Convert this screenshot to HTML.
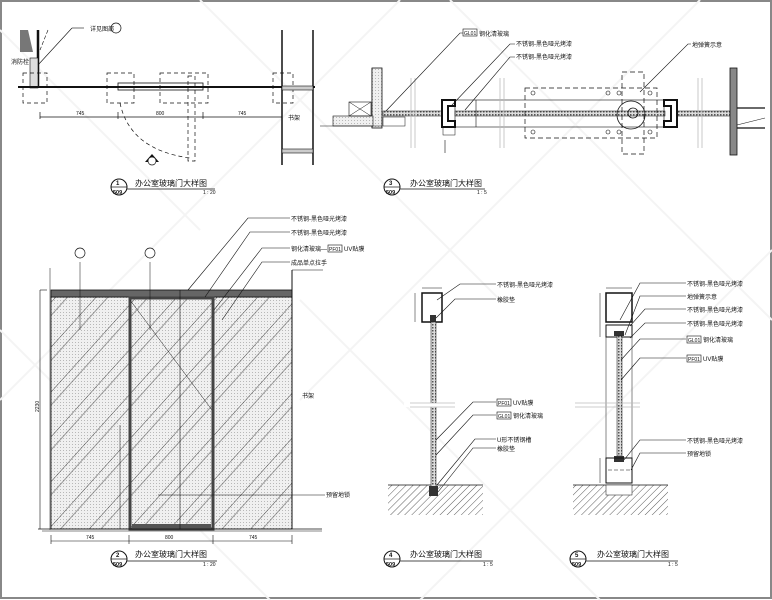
<!DOCTYPE html>
<html><head><meta charset="utf-8"><style>
html,body{margin:0;padding:0;background:#fff;}
svg{display:block;}
text{font-family:"Liberation Sans","Noto Sans CJK SC",sans-serif;fill:#111;}
</style></head><body>
<svg width="772" height="600" viewBox="0 0 772 600" xmlns="http://www.w3.org/2000/svg">
<defs>
<pattern id="dots" width="3" height="3" patternUnits="userSpaceOnUse"><rect width="3" height="3" fill="#f0f0f0"/><rect width="1" height="1" fill="#b8b8b8"/></pattern>
<pattern id="diag" width="30" height="30" patternUnits="userSpaceOnUse" patternTransform="rotate(42)"><line x1="0" y1="0" x2="0" y2="30" stroke="#222" stroke-width="0.8"/><line x1="9" y1="0" x2="9" y2="30" stroke="#444" stroke-width="0.5"/></pattern>
<pattern id="ground" width="5" height="5" patternUnits="userSpaceOnUse" patternTransform="rotate(45)"><rect width="5" height="5" fill="#fff"/><line x1="0" y1="0" x2="0" y2="5" stroke="#333" stroke-width="0.8"/></pattern>
<pattern id="glass" width="3" height="3" patternUnits="userSpaceOnUse"><rect width="3" height="3" fill="#ddd"/><rect width="1.5" height="1.5" fill="#555"/></pattern>
</defs>
<rect x="1" y="1" width="770" height="597" fill="none" stroke="#888" stroke-width="2"/>
<g stroke="#f4f4f4" stroke-width="2" fill="none">
<line x1="0" y1="30" x2="200" y2="230"/><line x1="200" y1="0" x2="500" y2="300"/><line x1="450" y1="0" x2="772" y2="320"/>
<line x1="0" y1="330" x2="270" y2="600"/><line x1="300" y1="300" x2="600" y2="600"/>
<line x1="400" y1="0" x2="0" y2="400"/><line x1="700" y1="0" x2="300" y2="400"/><line x1="772" y1="250" x2="420" y2="600"/>
</g>

<!-- ===== VIEW 1 ===== -->
<g stroke="#111" fill="none">
<polygon points="20,30 28,30 33,52 20,52" fill="#777" stroke="none"/>
<line x1="38" y1="30" x2="38" y2="88" stroke-width="2.5"/>
<rect x="30" y="58" width="8" height="30" fill="#ddd" stroke-width="0.6"/>
<line x1="48" y1="30" x2="40" y2="50" stroke-dasharray="4,2" stroke-width="0.6"/>
<line x1="18" y1="87" x2="315" y2="87" stroke-width="2"/>
<rect x="118" y="83" width="85" height="7" stroke-width="0.8"/>
<g stroke-dasharray="4,3" stroke-width="0.7">
<rect x="23" y="73" width="24" height="30"/><rect x="107" y="73" width="27" height="30"/>
<rect x="160" y="73" width="48" height="30"/><rect x="273" y="73" width="20" height="30"/>
<rect x="188" y="76" width="7" height="85"/>
<path d="M120,103 Q130,150 190,158"/>
</g>
<line x1="282" y1="30" x2="282" y2="165" stroke-width="1.5"/>
<line x1="313" y1="30" x2="313" y2="165" stroke-width="1.5"/>
<rect x="282" y="86" width="31" height="4" fill="#ccc" stroke-width="0.6"/>
<rect x="282" y="149" width="31" height="4" fill="#ccc" stroke-width="0.6"/>
<line x1="40" y1="117" x2="282" y2="117" stroke-width="0.7"/>
<line x1="40" y1="112" x2="40" y2="119" stroke-width="0.7"/><line x1="118" y1="112" x2="118" y2="119" stroke-width="0.7"/><line x1="203" y1="112" x2="203" y2="119" stroke-width="0.7"/>
<line x1="72" y1="28" x2="38" y2="65" stroke-width="0.6"/><line x1="72" y1="28" x2="84" y2="28" stroke-width="0.6"/>
<line x1="372" y1="68" x2="372" y2="128" stroke-width="0.8"/>
<rect x="372" y="68" width="10" height="60" fill="url(#dots)" stroke-width="0.8"/>
<rect x="333" y="116" width="40" height="10" fill="url(#dots)" stroke-width="0.6"/>
<rect x="349" y="102" width="22" height="14" stroke-width="0.6"/><line x1="349" y1="102" x2="371" y2="116" stroke-width="0.5"/><line x1="371" y1="102" x2="349" y2="116" stroke-width="0.5"/>
<line x1="320" y1="126" x2="382" y2="126" stroke-width="0.6"/>
</g>
<text x="90" y="31" font-size="6">详见图部</text>
<circle cx="116" cy="28" r="5" fill="none" stroke="#111" stroke-width="0.7"/>
<text x="11" y="64" font-size="6">消防栓</text>
<text x="76" y="115" font-size="5">745</text><text x="156" y="115" font-size="5">800</text><text x="238" y="115" font-size="5">745</text>
<text x="288" y="120" font-size="6">书架</text>
<path d="M145,162 L152,154 L159,162 Z" fill="#111"/><circle cx="152" cy="161" r="4" fill="#fff" stroke="#111" stroke-width="0.7"/>
<circle cx="119" cy="187" r="8" fill="#fff" stroke="#111" stroke-width="1"/><line x1="111" y1="187" x2="127" y2="187" stroke="#111" stroke-width="0.7"/>
<text x="116" y="185" font-size="6" font-weight="bold">1</text><text x="113" y="194" font-size="5.5" font-weight="bold">509</text>
<line x1="127" y1="189" x2="215" y2="189" stroke="#111" stroke-width="0.8"/>
<text x="135" y="186" font-size="8">办公室玻璃门大样图</text><text x="203" y="194" font-size="5">1 : 20</text>

<!-- ===== VIEW 3 ===== -->
<g stroke="#111" fill="none">
<rect x="383" y="111" width="60" height="5" fill="url(#glass)" stroke-width="0.5"/>
<rect x="455" y="111" width="210" height="5" fill="url(#glass)" stroke-width="0.5"/>
<rect x="677" y="111" width="53" height="5" fill="url(#glass)" stroke-width="0.5"/>
<path d="M442,100 h13 v6 h-7 v15 h7 v6 h-13 z" fill="#fff" stroke-width="2"/>
<path d="M677,100 h-13 v6 h7 v15 h-7 v6 h13 z" fill="#fff" stroke-width="2"/>
<rect x="455" y="100" width="209" height="27" stroke-width="0.6"/>
<line x1="476" y1="100" x2="476" y2="127" stroke-width="0.6"/>
<rect x="525" y="88" width="132" height="50" stroke-dasharray="5,3" stroke-width="0.7"/>
<rect x="622" y="72" width="22" height="82" stroke-dasharray="5,3" stroke-width="0.7"/>
<circle cx="631" cy="115" r="14" stroke-width="0.8"/><circle cx="633" cy="113" r="5" stroke-width="0.8"/>
<g stroke-width="0.6"><circle cx="533" cy="93" r="2"/><circle cx="608" cy="93" r="2"/><circle cx="619" cy="93" r="2"/><circle cx="650" cy="93" r="2"/><circle cx="533" cy="132" r="2"/><circle cx="608" cy="132" r="2"/><circle cx="619" cy="132" r="2"/><circle cx="650" cy="132" r="2"/></g>
<g stroke="#bbb" stroke-width="0.8"><line x1="411" y1="78" x2="411" y2="148"/><line x1="415" y1="78" x2="415" y2="148"/><line x1="500" y1="78" x2="500" y2="148"/><line x1="504" y1="78" x2="504" y2="148"/><line x1="698" y1="78" x2="698" y2="148"/><line x1="702" y1="78" x2="702" y2="148"/></g>
<rect x="730" y="68" width="7" height="87" fill="#888" stroke-width="0.8"/>
<line x1="737" y1="108" x2="765" y2="108" stroke-width="1.2"/><line x1="737" y1="128" x2="765" y2="128" stroke-width="1.2"/><line x1="737" y1="125" x2="765" y2="118" stroke-width="0.6"/>
<rect x="383" y="117" width="22" height="9" stroke-width="0.5"/>
<rect x="443" y="127" width="12" height="8" stroke-width="0.5"/>
<line x1="445" y1="140" x2="445" y2="153" stroke-width="0.6"/>
<g stroke-width="0.6">
<polyline points="386,111 460,33 463,33"/><polyline points="452,105 510,44 515,44"/><polyline points="465,110 510,57 515,57"/><polyline points="640,92 688,44 691,44"/>
</g>
</g>
<rect x="463" y="29" width="14" height="7" fill="#fff" stroke="#111" stroke-width="0.6"/><text x="464" y="35" font-size="5">GL01</text>
<text x="479" y="36" font-size="6">钢化清玻璃</text>
<text x="516" y="46" font-size="6">不锈钢-黑色哑光烤漆</text><text x="516" y="59" font-size="6">不锈钢-黑色哑光烤漆</text>
<text x="692" y="47" font-size="6">地弹簧示意</text>
<circle cx="392" cy="187" r="8" fill="#fff" stroke="#111" stroke-width="1"/><line x1="384" y1="187" x2="400" y2="187" stroke="#111" stroke-width="0.7"/>
<text x="389" y="185" font-size="6" font-weight="bold">3</text><text x="386" y="194" font-size="5.5" font-weight="bold">509</text>
<line x1="400" y1="189" x2="485" y2="189" stroke="#111" stroke-width="0.8"/>
<text x="410" y="186" font-size="8">办公室玻璃门大样图</text><text x="477" y="194" font-size="5">1 : 5</text>

<!-- ===== VIEW 2 ===== -->
<g stroke="#111" fill="none">
<rect x="51" y="297" width="241" height="232" fill="url(#dots)" stroke="none"/>
<rect x="51" y="297" width="241" height="232" fill="url(#diag)" stroke-width="0.8"/>
<rect x="51" y="290" width="241" height="7" fill="#666" stroke-width="0.8"/>
<rect x="130" y="298" width="83" height="231" stroke="#444" stroke-width="3"/>
<rect x="132" y="524" width="79" height="5" fill="#555" stroke="none"/>
<line x1="130" y1="300" x2="212" y2="410" stroke-width="0.5"/>
<line x1="180" y1="290" x2="180" y2="529" stroke-width="0.6"/>
<line x1="40" y1="290" x2="47" y2="290" stroke-width="0.6"/><line x1="40" y1="290" x2="40" y2="529" stroke-width="0.6"/>
<line x1="50" y1="268" x2="50" y2="530" stroke-width="0.5"/>
<line x1="80" y1="262" x2="80" y2="330" stroke-width="0.5"/><line x1="150" y1="262" x2="150" y2="330" stroke-width="0.5"/>
<line x1="120" y1="425" x2="120" y2="529" stroke-width="0.5"/>
<line x1="38" y1="529" x2="322" y2="529" stroke-width="0.8"/><line x1="42" y1="531" x2="322" y2="531" stroke-width="0.5"/>
<line x1="292" y1="270" x2="292" y2="529" stroke-width="1"/><line x1="292" y1="270" x2="323" y2="270" stroke-width="0.6"/>
<line x1="51" y1="541" x2="292" y2="541" stroke-width="0.6"/>
<line x1="51" y1="535" x2="51" y2="544" stroke-width="0.6"/><line x1="129" y1="535" x2="129" y2="544" stroke-width="0.6"/><line x1="213" y1="535" x2="213" y2="544" stroke-width="0.6"/><line x1="292" y1="535" x2="292" y2="544" stroke-width="0.6"/>
<line x1="158" y1="495" x2="325" y2="495" stroke-width="0.6"/>
<g stroke-width="0.6">
<polyline points="188,290 248,218 290,218"/><polyline points="205,297 250,232 290,232"/><polyline points="214,310 262,248 290,248"/><polyline points="222,320 262,262 290,262"/>
</g>
</g>
<text x="291" y="221" font-size="6">不锈钢-黑色哑光烤漆</text><text x="291" y="235" font-size="6">不锈钢-黑色哑光烤漆</text>
<text x="291" y="251" font-size="6">钢化清玻璃—</text><rect x="328" y="245" width="14" height="7" fill="#fff" stroke="#111" stroke-width="0.6"/><text x="329" y="251" font-size="5">PF01</text><text x="344" y="251" font-size="6">UV贴膜</text>
<text x="291" y="265" font-size="6">成品单点拉手</text>
<text x="302" y="398" font-size="6">书架</text>
<text x="326" y="497" font-size="6">预留地锁</text>
<text x="39" y="412" font-size="5" transform="rotate(-90 39 412)">2230</text>
<text x="86" y="539" font-size="5">745</text><text x="165" y="539" font-size="5">800</text><text x="249" y="539" font-size="5">745</text>
<circle cx="80" cy="253" r="5" fill="#fff" stroke="#111" stroke-width="0.7"/><circle cx="150" cy="253" r="5" fill="#fff" stroke="#111" stroke-width="0.7"/>
<circle cx="119" cy="559" r="8" fill="#fff" stroke="#111" stroke-width="1"/><line x1="111" y1="559" x2="127" y2="559" stroke="#111" stroke-width="0.7"/>
<text x="116" y="557" font-size="6" font-weight="bold">2</text><text x="113" y="566" font-size="5.5" font-weight="bold">509</text>
<line x1="127" y1="561" x2="217" y2="561" stroke="#111" stroke-width="0.8"/>
<text x="135" y="557" font-size="8">办公室玻璃门大样图</text><text x="203" y="566" font-size="5">1 : 20</text>

<!-- ===== VIEW 4 ===== -->
<g stroke="#111" fill="none">
<rect x="388" y="485" width="95" height="30" fill="url(#ground)" stroke="none"/>
<line x1="388" y1="485" x2="483" y2="485" stroke-width="0.8"/>
<rect x="422" y="293" width="20" height="29" stroke-width="1.5"/>
<rect x="430" y="315" width="6" height="8" fill="#333" stroke="none"/>
<rect x="431" y="322" width="5" height="168" fill="url(#glass)" stroke-width="0.5"/>
<rect x="429" y="486" width="9" height="10" fill="#333" stroke="none"/>
<rect x="404" y="403" width="35" height="4" fill="#fff" stroke="none"/>
<line x1="410" y1="403" x2="455" y2="403" stroke="#bbb" stroke-width="0.8"/><line x1="410" y1="407" x2="455" y2="407" stroke="#bbb" stroke-width="0.8"/>
<line x1="422" y1="288" x2="442" y2="288" stroke-width="0.5"/><line x1="415" y1="293" x2="415" y2="322" stroke-width="0.5"/>
<g stroke-width="0.6">
<polyline points="437,300 460,284 496,284"/><polyline points="436,318 455,299 496,299"/>
<polyline points="436,440 473,402 496,402"/><polyline points="436,455 473,415 496,415"/><polyline points="437,485 475,439 496,439"/><polyline points="438,492 473,448 496,448"/>
</g>
</g>
<text x="497" y="287" font-size="6">不锈钢-黑色哑光烤漆</text><text x="497" y="302" font-size="6">橡胶垫</text>
<rect x="497" y="399" width="14" height="7" fill="#fff" stroke="#111" stroke-width="0.6"/><text x="498" y="405" font-size="5">PF01</text><text x="513" y="405" font-size="6">UV贴膜</text>
<rect x="497" y="412" width="14" height="7" fill="#fff" stroke="#111" stroke-width="0.6"/><text x="498" y="418" font-size="5">GL01</text><text x="513" y="418" font-size="6">钢化清玻璃</text>
<text x="497" y="442" font-size="6">U形不锈钢槽</text><text x="497" y="451" font-size="6">橡胶垫</text>
<circle cx="392" cy="559" r="8" fill="#fff" stroke="#111" stroke-width="1"/><line x1="384" y1="559" x2="400" y2="559" stroke="#111" stroke-width="0.7"/>
<text x="389" y="557" font-size="6" font-weight="bold">4</text><text x="386" y="566" font-size="5.5" font-weight="bold">509</text>
<line x1="400" y1="561" x2="493" y2="561" stroke="#111" stroke-width="0.8"/>
<text x="410" y="557" font-size="8">办公室玻璃门大样图</text><text x="483" y="566" font-size="5">1 : 5</text>

<!-- ===== VIEW 5 ===== -->
<g stroke="#111" fill="none">
<rect x="573" y="485" width="95" height="30" fill="url(#ground)" stroke="none"/>
<line x1="573" y1="485" x2="668" y2="485" stroke-width="0.8"/>
<rect x="606" y="293" width="26" height="29" stroke-width="1.5"/>
<rect x="606" y="325" width="26" height="12" stroke-width="1"/>
<rect x="614" y="331" width="10" height="5" fill="#333" stroke="none"/>
<rect x="617" y="336" width="5" height="120" fill="url(#glass)" stroke-width="0.5"/>
<rect x="614" y="456" width="10" height="6" fill="#333" stroke="none"/>
<rect x="606" y="458" width="26" height="25" stroke-width="1"/>
<line x1="606" y1="337" x2="606" y2="458" stroke-width="0.5"/><line x1="632" y1="337" x2="632" y2="458" stroke-width="0.5"/>
<line x1="608" y1="470" x2="630" y2="470" stroke-dasharray="4,2" stroke-width="0.5"/>
<rect x="606" y="485" width="26" height="10" fill="#fff" stroke-width="0.5"/>
<line x1="575" y1="403" x2="640" y2="403" stroke="#bbb" stroke-width="0.8"/><line x1="575" y1="407" x2="640" y2="407" stroke="#bbb" stroke-width="0.8"/>
<line x1="606" y1="288" x2="632" y2="288" stroke-width="0.5"/><line x1="600" y1="293" x2="600" y2="337" stroke-width="0.5"/><line x1="600" y1="458" x2="600" y2="483" stroke-width="0.5"/>
<g stroke-width="0.6">
<polyline points="620,320 640,283 686,283"/><polyline points="625,335 640,296 686,296"/><polyline points="630,326 645,309 686,309"/>
<polyline points="630,338 645,323 686,323"/><polyline points="621,360 640,339 686,339"/><polyline points="621,380 640,358 686,358"/>
<polyline points="624,460 640,440 686,440"/><polyline points="631,470 640,453 686,453"/>
</g>
</g>
<text x="687" y="286" font-size="6">不锈钢-黑色哑光烤漆</text><text x="687" y="299" font-size="6">地弹簧示意</text>
<text x="687" y="312" font-size="6">不锈钢-黑色哑光烤漆</text><text x="687" y="326" font-size="6">不锈钢-黑色哑光烤漆</text>
<rect x="687" y="336" width="14" height="7" fill="#fff" stroke="#111" stroke-width="0.6"/><text x="688" y="342" font-size="5">GL01</text><text x="703" y="342" font-size="6">钢化清玻璃</text>
<rect x="687" y="355" width="14" height="7" fill="#fff" stroke="#111" stroke-width="0.6"/><text x="688" y="361" font-size="5">PF01</text><text x="703" y="361" font-size="6">UV贴膜</text>
<text x="687" y="443" font-size="6">不锈钢-黑色哑光烤漆</text><text x="687" y="456" font-size="6">预留地锁</text>
<circle cx="578" cy="559" r="8" fill="#fff" stroke="#111" stroke-width="1"/><line x1="570" y1="559" x2="586" y2="559" stroke="#111" stroke-width="0.7"/>
<text x="575" y="557" font-size="6" font-weight="bold">5</text><text x="572" y="566" font-size="5.5" font-weight="bold">509</text>
<line x1="586" y1="561" x2="678" y2="561" stroke="#111" stroke-width="0.8"/>
<text x="597" y="557" font-size="8">办公室玻璃门大样图</text><text x="668" y="566" font-size="5">1 : 5</text>
</svg>
</body></html>
